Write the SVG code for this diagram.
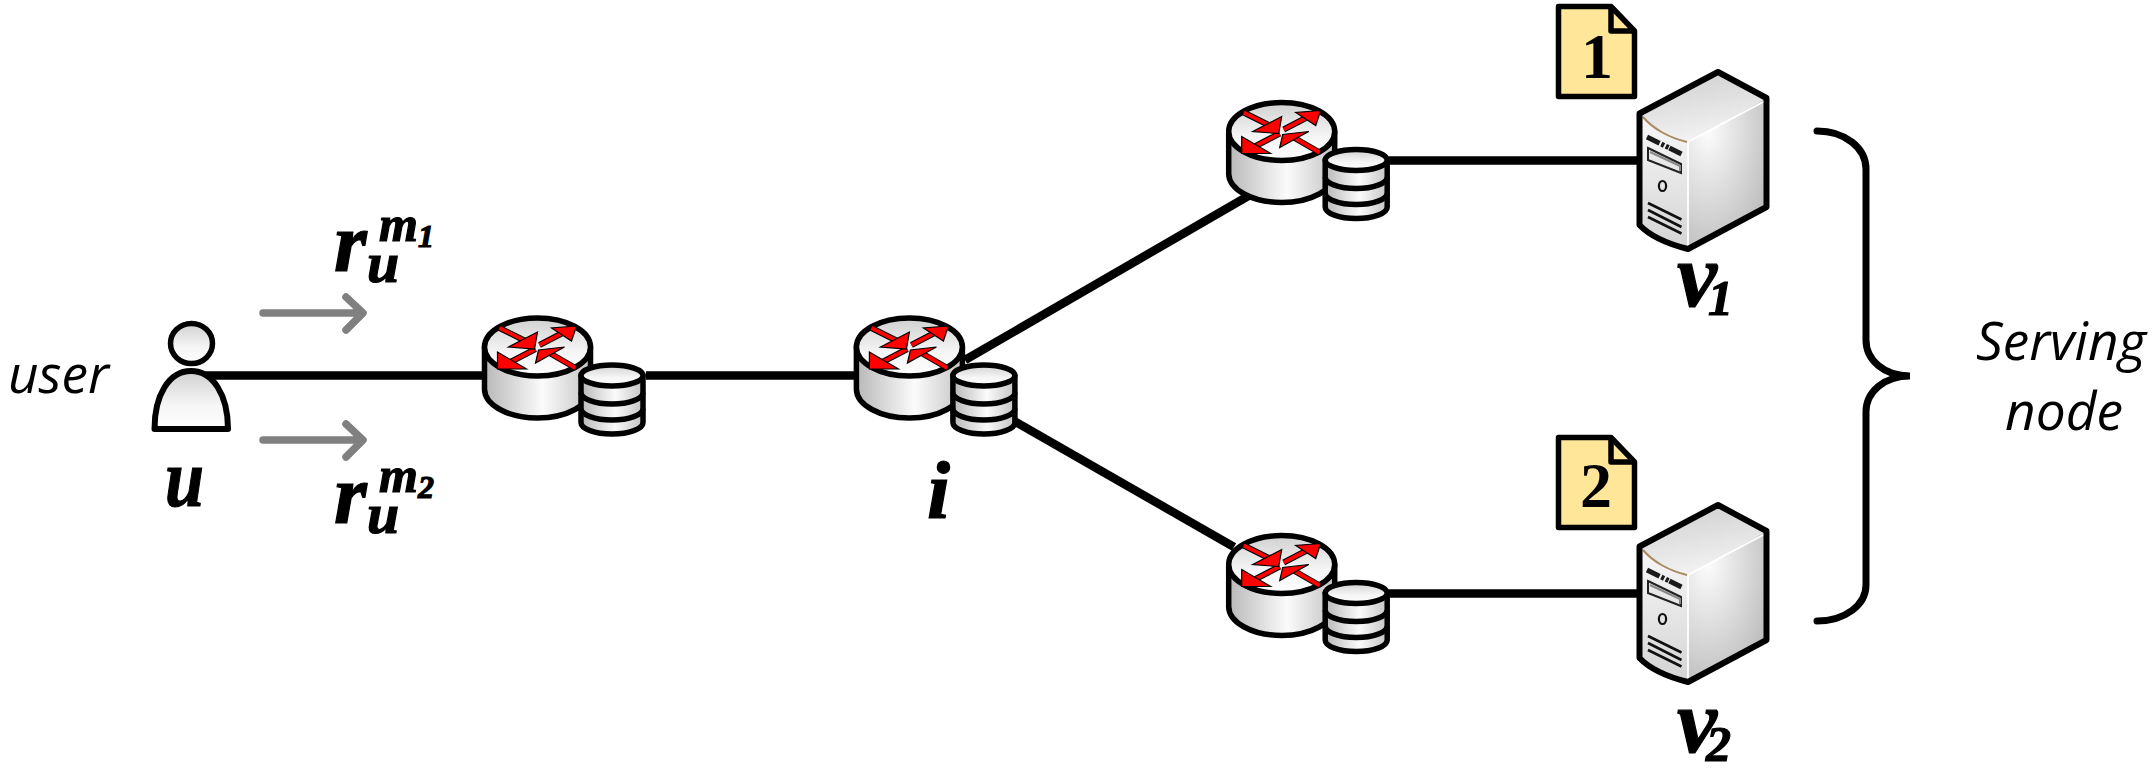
<svg xmlns="http://www.w3.org/2000/svg" xmlns:xlink="http://www.w3.org/1999/xlink" width="2155" height="777" viewBox="0 0 2155 777">
<style>
.ol{stroke:#000;stroke-width:5.5;stroke-linejoin:round}
.link{stroke:#000;stroke-width:8.5;fill:none}
.flow{stroke:#808080;stroke-width:7.5;fill:none;stroke-linecap:round;stroke-linejoin:round}
.math{font-family:"Liberation Serif",serif;font-style:italic;font-weight:bold;fill:#000;stroke:#000;stroke-width:1.2}
.note{font-family:"Open Sans","Noto Sans",sans-serif;font-style:italic;font-size:53px;fill:#000}
.num{font-family:"Liberation Serif",serif;font-weight:bold;font-size:64px;fill:#000;text-anchor:middle}
.rl{stroke:#000;stroke-width:6;fill:none}
.rr{stroke:#f00;stroke-width:3.8;fill:none}
.rh{fill:#f00;stroke:#000;stroke-width:1.2}
</style>
<defs>
<linearGradient id="gh" x1="0" y1="0" x2="1" y2="0"><stop offset="0" stop-color="#b8b8b8"/><stop offset="0.55" stop-color="#fbfbfb"/><stop offset="1" stop-color="#c4c4c4"/></linearGradient>
<linearGradient id="gt" x1="0" y1="0" x2="0" y2="1"><stop offset="0" stop-color="#d0d0d0"/><stop offset="0.6" stop-color="#f6f6f6"/><stop offset="1" stop-color="#fdfdfd"/></linearGradient>
<linearGradient id="sv1" x1="0" y1="0" x2="0.3" y2="1"><stop offset="0" stop-color="#cdcdcd"/><stop offset="1" stop-color="#f2f2f2"/></linearGradient>
<linearGradient id="sv2" x1="0" y1="0" x2="0" y2="1"><stop offset="0" stop-color="#f8f8f8"/><stop offset="1" stop-color="#d4d4d4"/></linearGradient>
<radialGradient id="sv3" cx="0.25" cy="0.2" r="0.95"><stop offset="0" stop-color="#fdfdfd"/><stop offset="1" stop-color="#b8b8b8"/></radialGradient>
<g id="db">
<path d="M-31 0V47A31 11.5 0 0 0 31 47V0Z" fill="url(#gh)" class="ol"/>
<ellipse cx="0" cy="0" rx="31" ry="10.5" fill="url(#gt)" class="ol"/>
<path d="M-31 17A31 11.5 0 0 0 31 17M-31 33A31 11.5 0 0 0 31 33" fill="none" class="ol"/>
</g>
<g id="router">
<path d="M-53 0V42A53 29 0 0 0 53 42V0Z" fill="url(#gh)" class="ol"/>
<ellipse cx="0" cy="0" rx="53" ry="29" fill="url(#gt)" class="ol"/>
<path class="rl" d="M-38 -19L-10 -5M2 -2L27 -15M-2 2L-27 15M38 21L12 6"/>
<path class="rr" d="M-38 -19L-10 -5M2 -2L27 -15M-2 2L-27 15M38 21L12 6"/>
<path class="rh" d="M0 -15L-3 2L-29 0ZM39 -21L14 -19L34 -6ZM-40 5L-40 22L-11 22ZM27 0L1 3L-2 16Z"/>
<use xlink:href="#db" href="#db" x="74.5" y="28.5"/>
</g>
<g id="server">
<path d="M1639.5 113.5L1718 72L1766.5 98L1688 142C1668 138 1650 128 1639.5 113.5Z" fill="url(#sv1)"/>
<path d="M1688 142L1766.5 98V207L1688 249Z" fill="url(#sv3)"/>
<path d="M1639.5 113.5C1650 128 1668 138 1688 142V249C1668 244 1650 236 1639.5 225Z" fill="url(#sv2)"/>
<path d="M1643 117C1653 129 1670 138 1687 142" fill="none" stroke="#a88b62" stroke-width="2"/>
<path d="M1688 142L1765 101M1688 142V247" fill="none" stroke="#fff" stroke-width="1.8"/>
<path d="M1647 137L1681.5 154" stroke="#1a1a1a" stroke-width="5" stroke-dasharray="14 2 3 2 3 1"/>
<path d="M1648 148L1681 164V173L1648 160Z" fill="#e8e8e8" stroke="#222" stroke-width="2"/>
<path d="M1650 152L1680 166V171" fill="none" stroke="#888" stroke-width="2"/>
<ellipse cx="1662.5" cy="186" rx="3.6" ry="5" fill="none" stroke="#111" stroke-width="2.2"/>
<path d="M1648 203L1681.5 219.5M1648 210L1681.5 227M1648 217L1681.5 233.5" stroke="#111" stroke-width="2.6" fill="none"/>
<path d="M1639.5 113.5L1718 72L1766.5 98V207L1688 249C1668 244 1650 236 1639.5 225Z" fill="none" stroke="#000" stroke-width="6" stroke-linejoin="round"/>
</g>
<g id="doc">
<path d="M1558.5 6.5H1611L1634.5 31V96.5H1558.5Z" fill="#ffe699" stroke="#000" stroke-width="5.5" stroke-linejoin="round"/>
<path d="M1611 6.5V31H1634.5" fill="none" stroke="#000" stroke-width="5.5" stroke-linejoin="round"/>
</g>
</defs>
<rect width="2155" height="777" fill="#fff"/>
<g id="connectors">
<path class="link" d="M205 375.5H484"/>
<path class="link" d="M646 375.5H855"/>
<path class="link" d="M965 360L1250 195"/>
<path class="link" d="M1014 421L1234 547"/>
<path class="link" d="M1389 160.5H1640"/>
<path class="link" d="M1389 593.5H1642"/>
<path class="flow" d="M263 313H362M346 297L363 313L346 330"/>
<path class="flow" d="M263 440H362M346 424L363 440L346 457"/>
<path id="brace" d="M1817 131C1845 131 1866 148 1866 169V340C1866 360 1884 376 1910 376C1884 376 1866 392 1866 412V585C1866 605 1845 621 1817 621" fill="none" stroke="#000" stroke-width="7" stroke-linecap="round"/>
</g>
<g id="node-user">
<ellipse cx="191.5" cy="343.5" rx="21" ry="20" fill="url(#gt)" class="ol"/>
<path d="M154.5 429H228C228 395 213 371 191 371C169 371 154.5 395 154.5 429Z" fill="url(#gt)" stroke="#000" stroke-width="6" stroke-linejoin="round"/>
<text class="note" x="8" y="393" textLength="101" lengthAdjust="spacingAndGlyphs">user</text>
<text class="math" x="165" y="506" font-size="83" textLength="39" lengthAdjust="spacingAndGlyphs">u</text>
</g>
<g id="request-m1">
<text class="math" x="334" y="271" font-size="84"><tspan>r</tspan><tspan x="367" y="281.5" font-size="58">u</tspan><tspan x="379" y="240.5" font-size="50">m</tspan><tspan x="418" y="246.5" font-size="32">1</tspan></text>
</g>
<g id="request-m2">
<text class="math" x="334" y="523" font-size="84"><tspan>r</tspan><tspan x="367" y="533" font-size="58">u</tspan><tspan x="379" y="492" font-size="50">m</tspan><tspan x="418" y="498" font-size="32">2</tspan></text>
</g>
<g id="node-router-a"><use xlink:href="#router" href="#router" x="537.5" y="347"/></g>
<g id="node-router-i"><use xlink:href="#router" href="#router" x="909.4" y="347"/>
<text class="math" x="927" y="518" font-size="83">i</text></g>
<g id="node-router-top"><use xlink:href="#router" href="#router" x="1281.7" y="131.5"/></g>
<g id="node-router-bottom"><use xlink:href="#router" href="#router" x="1281.7" y="564.5"/></g>
<g id="node-server-1"><use xlink:href="#server" href="#server"/>
<text class="math" x="1677" y="306" font-size="90">v<tspan x="1708" y="315" font-size="50">1</tspan></text></g>
<g id="node-server-2"><use xlink:href="#server" href="#server" y="433"/>
<text class="math" x="1677" y="751.5" font-size="90">v<tspan x="1706" y="761" font-size="50">2</tspan></text></g>
<g id="node-doc-1"><use xlink:href="#doc" href="#doc"/><text class="num" x="1597" y="78">1</text></g>
<g id="node-doc-2"><use xlink:href="#doc" href="#doc" y="431"/><text class="num" x="1596" y="507">2</text></g>
<g id="label-serving">
<text class="note" x="2061" y="360" text-anchor="middle" textLength="170" lengthAdjust="spacingAndGlyphs">Serving</text>
<text class="note" x="2064" y="430" text-anchor="middle" textLength="118" lengthAdjust="spacingAndGlyphs">node</text>
</g>
</svg>
